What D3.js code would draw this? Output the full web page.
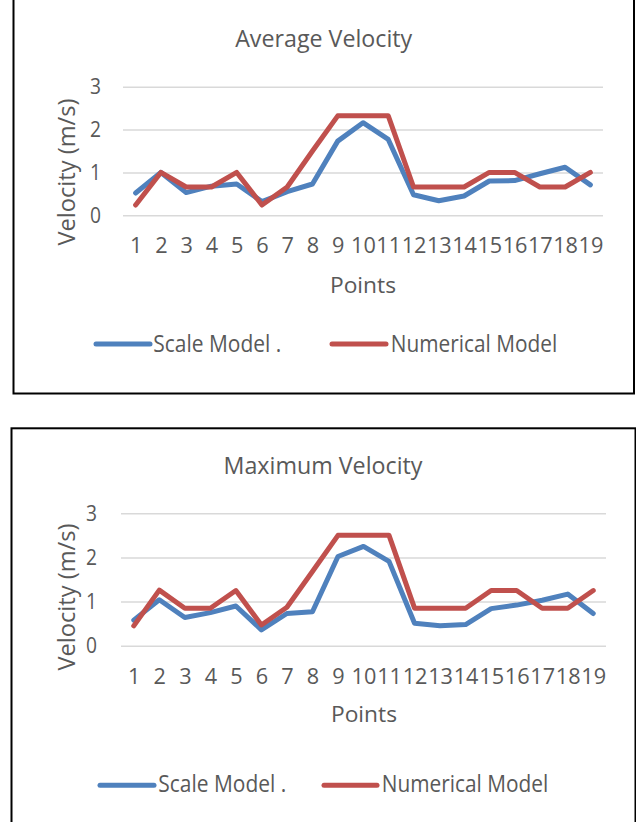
<!DOCTYPE html>
<html>
<head>
<meta charset="utf-8">
<script src="https://cdn.jsdelivr.net/npm/d3@7"></script>
<style>
  html, body { margin: 0; padding: 0; background: #fff; }
  svg { display: block; }
  text { font-family: "Open Sans", Lato, sans-serif; fill: #595959; }
</style>
</head>
<body>
<svg id="fig" width="636" height="822"></svg>
<script>
// Measuring points along the channel
const points = ["1","2","3","4","5","6","7","8","9","10","11","12","13","14","15","16","17","18","19"];
const velocityTicks = [0, 1, 2, 3];
const seriesNames = ["Scale Model .", "Numerical Model"];
const seriesColors = ["#4F81BD", "#C0504D"];

// Average velocity (m/s)
const avgScaleModel     = [0.52, 1.00, 0.53, 0.68, 0.73, 0.32, 0.55, 0.73, 1.73, 2.16, 1.77, 0.48, 0.34, 0.45, 0.80, 0.81, 0.97, 1.12, 0.71];
const avgNumericalModel = [0.24, 1.00, 0.66, 0.66, 1.00, 0.24, 0.66, 1.50, 2.32, 2.32, 2.32, 0.66, 0.66, 0.66, 1.00, 1.00, 0.66, 0.66, 1.00];

// Maximum velocity (m/s)
const maxScaleModel     = [0.58, 1.04, 0.64, 0.75, 0.90, 0.36, 0.73, 0.77, 2.02, 2.25, 1.91, 0.51, 0.45, 0.48, 0.84, 0.92, 1.03, 1.17, 0.73];
const maxNumericalModel = [0.45, 1.26, 0.85, 0.85, 1.25, 0.47, 0.87, 1.68, 2.50, 2.50, 2.50, 0.85, 0.85, 0.85, 1.25, 1.25, 0.85, 0.85, 1.25];

const svg = d3.select("#fig");

function drawPanel(cfg) {
  const g = svg.append("g");

  // frame
  g.append("rect")
    .attr("x", cfg.box[0]).attr("y", cfg.box[1])
    .attr("width", cfg.box[2] - cfg.box[0]).attr("height", cfg.box[3] - cfg.box[1])
    .attr("fill", "none").attr("stroke", "#000").attr("stroke-width", 2);

  const x = d3.scalePoint().domain(points).range([cfg.plot.x0, cfg.plot.x1]).padding(0.5);
  const y = d3.scaleLinear().domain([0, 3]).range([cfg.plot.y0, cfg.plot.y1]);

  // gridlines
  g.append("g")
    .attr("transform", `translate(${cfg.plot.x0},0)`)
    .call(d3.axisLeft(y).tickValues(velocityTicks).tickSize(-(cfg.plot.x1 - cfg.plot.x0)).tickFormat(""))
    .call(a => a.select(".domain").remove())
    .call(a => a.selectAll(".tick line").attr("stroke", "#D9D9D9").attr("stroke-width", 1.5));

  // y tick labels
  g.append("g")
    .attr("transform", `translate(${cfg.plot.x0},0)`)
    .call(d3.axisLeft(y).tickValues(velocityTicks).tickSize(0).tickPadding(cfg.yPad).tickFormat(d3.format("d")))
    .call(a => a.select(".domain").remove())
    .call(a => a.selectAll("text").attr("font-family", null)
      .attr("font-size", 21).attr("fill", "#595959")
      .attr("textLength", 11).attr("lengthAdjust", "spacingAndGlyphs"));

  // x tick labels
  g.append("g")
    .attr("transform", `translate(0,${cfg.plot.y0})`)
    .call(d3.axisBottom(x).tickSize(0).tickPadding(cfg.xPad))
    .call(a => a.select(".domain").remove())
    .call(a => a.selectAll("text").attr("font-family", null).attr("font-size", 21).attr("fill", "#595959")
      .attr("textLength", d => d.length * 12.4).attr("lengthAdjust", "spacingAndGlyphs"));

  // chart title
  g.append("text")
    .attr("x", cfg.title.x).attr("y", cfg.title.y)
    .attr("text-anchor", "middle").attr("font-size", 23)
    .attr("textLength", cfg.title.w).attr("lengthAdjust", "spacingAndGlyphs")
    .text(cfg.title.text);

  // axis titles
  g.append("text")
    .attr("x", cfg.xTitle.x).attr("y", cfg.xTitle.y)
    .attr("text-anchor", "middle").attr("font-size", 22)
    .attr("textLength", 66).attr("lengthAdjust", "spacingAndGlyphs")
    .text("Points");

  g.append("text")
    .attr("transform", `translate(${cfg.yTitle.x},${cfg.yTitle.y}) rotate(-90)`)
    .attr("text-anchor", "middle").attr("font-size", 23)
    .attr("textLength", 147).attr("lengthAdjust", "spacingAndGlyphs")
    .text("Velocity (m/s)");

  // series
  const line = d3.line().x((d, i) => x(points[i])).y(d => y(d));
  cfg.series.forEach((vals, k) => {
    g.append("path")
      .datum(vals)
      .attr("d", line)
      .attr("fill", "none")
      .attr("stroke", seriesColors[k])
      .attr("stroke-width", 5)
      .attr("stroke-linejoin", "round")
      .attr("stroke-linecap", "round");
  });

  // legend
  cfg.legend.forEach((it, k) => {
    g.append("line")
      .attr("x1", it.x0).attr("x2", it.x1)
      .attr("y1", it.ly).attr("y2", it.ly)
      .attr("stroke", seriesColors[k]).attr("stroke-width", 5).attr("stroke-linecap", "round");
    g.append("text")
      .attr("x", it.tx).attr("y", it.ty)
      .attr("font-size", 23)
      .attr("textLength", it.tw).attr("lengthAdjust", "spacingAndGlyphs")
      .text(seriesNames[k]);
  });
}

drawPanel({
  box: [13.5, -3, 634, 393.5],
  plot: { x0: 123, x1: 603, y0: 215.3, y1: 86.7 },
  yPad: 22, xPad: 23,
  title: { text: "Average Velocity", x: 323.7, y: 47.3, w: 177 },
  xTitle: { x: 363, y: 292.5 },
  yTitle: { x: 75, y: 172 },
  series: [avgScaleModel, avgNumericalModel],
  legend: [
    { x0: 96, x1: 150, ly: 344, tx: 153.3, ty: 351.7, tw: 128 },
    { x0: 332, x1: 386, ly: 344, tx: 390.7, ty: 351.7, tw: 166.5 }
  ]
});

drawPanel({
  box: [11.5, 428.3, 635.5, 826],
  plot: { x0: 121, x1: 606, y0: 645.7, y1: 513.3 },
  yPad: 24, xPad: 23.5,
  title: { text: "Maximum Velocity", x: 323, y: 474, w: 199 },
  xTitle: { x: 364, y: 721.7 },
  yTitle: { x: 75, y: 597 },
  series: [maxScaleModel, maxNumericalModel],
  legend: [
    { x0: 100, x1: 154, ly: 785.3, tx: 158.3, ty: 792.3, tw: 128 },
    { x0: 324, x1: 377, ly: 785.3, tx: 381.7, ty: 792.3, tw: 166.5 }
  ]
});
</script>
</body>
</html>
